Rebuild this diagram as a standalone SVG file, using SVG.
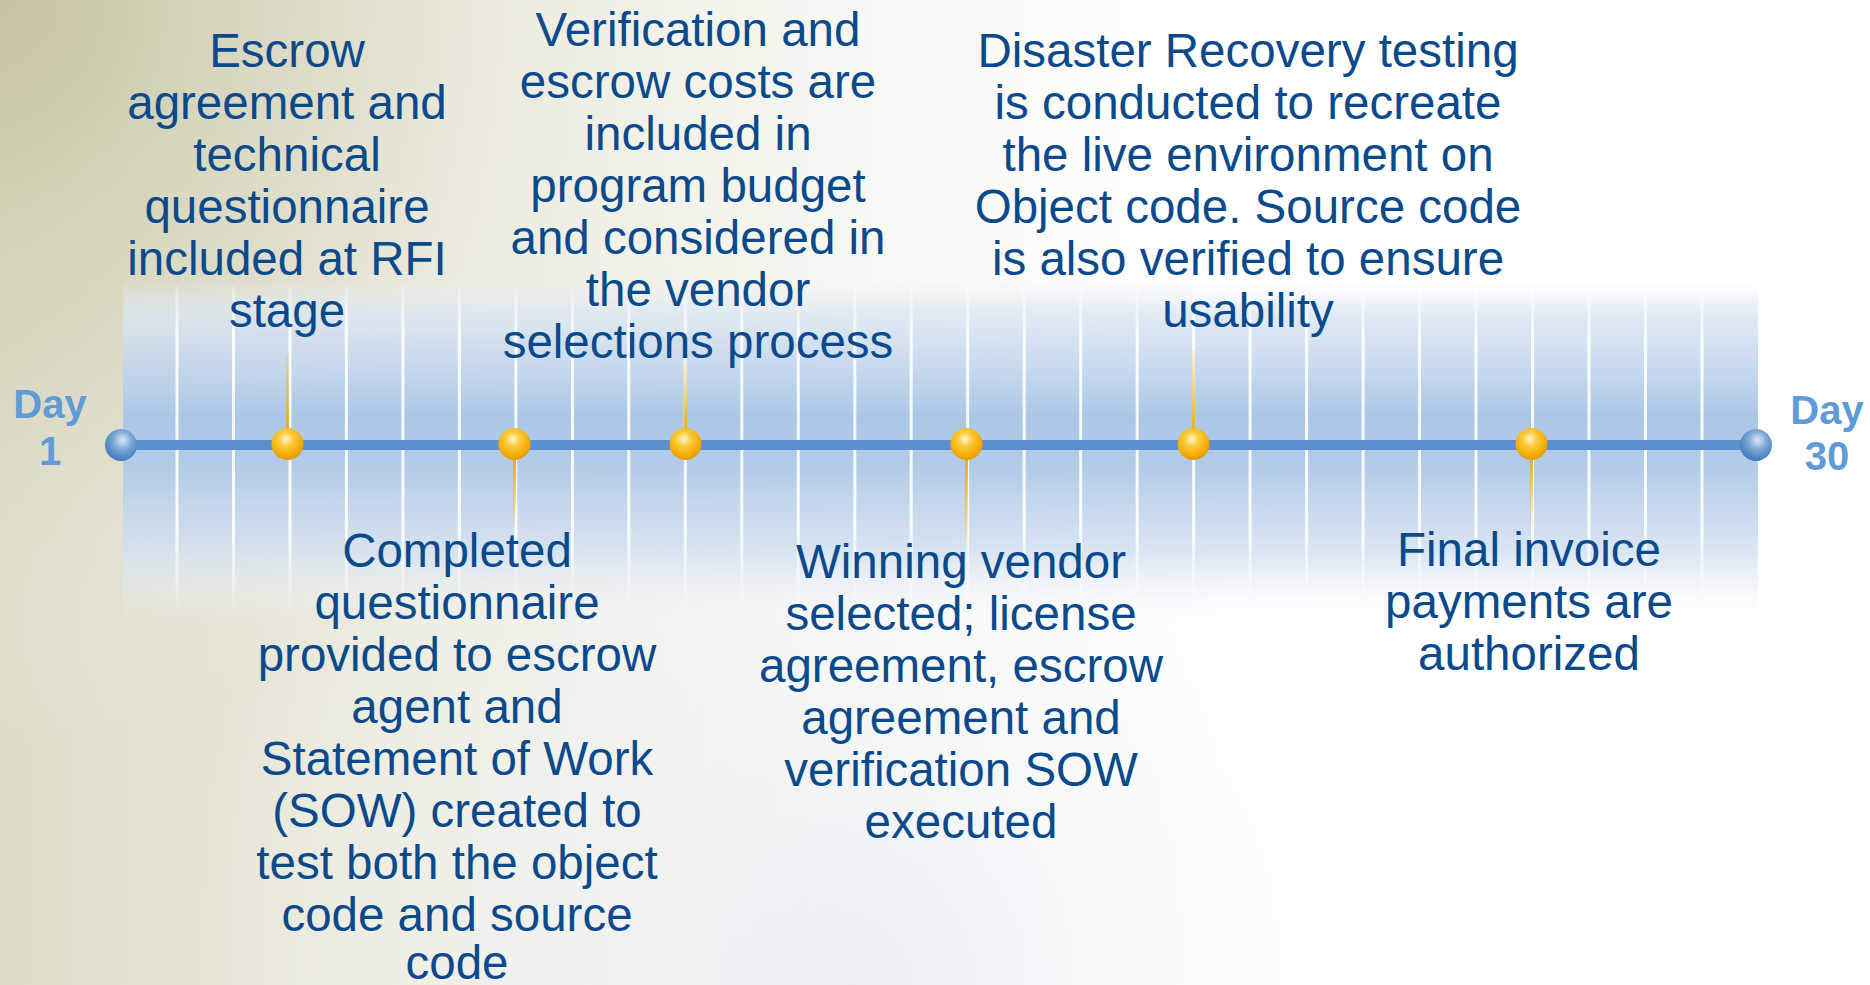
<svg xmlns="http://www.w3.org/2000/svg" width="1870" height="985" viewBox="0 0 1870 985">
<defs>
<linearGradient id="bgH" x1="0" y1="0" x2="1870" y2="0" gradientUnits="userSpaceOnUse">
<stop offset="0" stop-color="#dedcc8"/>
<stop offset="0.2" stop-color="#eae9dc"/>
<stop offset="0.45" stop-color="#f7f7f2"/>
<stop offset="0.65" stop-color="#ffffff"/>
<stop offset="1" stop-color="#ffffff"/>
</linearGradient>
<radialGradient id="bgTL" cx="0" cy="0" r="750" gradientUnits="userSpaceOnUse">
<stop offset="0" stop-color="#bab890" stop-opacity="0.7"/>
<stop offset="0.5" stop-color="#d0ceb0" stop-opacity="0.3"/>
<stop offset="1" stop-color="#ffffff" stop-opacity="0"/>
</radialGradient>
<radialGradient id="bgBot" cx="850" cy="985" r="700" gradientUnits="userSpaceOnUse">
<stop offset="0" stop-color="#e8eef5" stop-opacity="0.8"/>
<stop offset="1" stop-color="#ffffff" stop-opacity="0"/>
</radialGradient>
<linearGradient id="panelV" x1="0" y1="280" x2="0" y2="620" gradientUnits="userSpaceOnUse">
<stop offset="0" stop-color="#e8eff8" stop-opacity="0"/>
<stop offset="0.1" stop-color="#dae6f3" stop-opacity="0.8"/>
<stop offset="0.4" stop-color="#abc7e6" stop-opacity="1"/>
<stop offset="0.55" stop-color="#b3cbe7" stop-opacity="1"/>
<stop offset="0.8" stop-color="#d2e1f1" stop-opacity="0.85"/>
<stop offset="1" stop-color="#f2f6fb" stop-opacity="0"/>
</linearGradient>
<linearGradient id="vline" x1="0" y1="286" x2="0" y2="615" gradientUnits="userSpaceOnUse">
<stop offset="0" stop-color="#ffffff" stop-opacity="0.2"/>
<stop offset="0.15" stop-color="#ffffff" stop-opacity="0.9"/>
<stop offset="0.75" stop-color="#ffffff" stop-opacity="0.9"/>
<stop offset="1" stop-color="#ffffff" stop-opacity="0"/>
</linearGradient>
<linearGradient id="stemUp" x1="0" y1="0" x2="0" y2="1">
<stop offset="0" stop-color="#f5b000" stop-opacity="0.1"/>
<stop offset="1" stop-color="#f0a400" stop-opacity="1"/>
</linearGradient>
<linearGradient id="stemDown" x1="0" y1="0" x2="0" y2="1">
<stop offset="0" stop-color="#f0a400" stop-opacity="1"/>
<stop offset="1" stop-color="#f5b000" stop-opacity="0.05"/>
</linearGradient>
<radialGradient id="orangeBall" cx="0.45" cy="0.35" r="0.65">
<stop offset="0" stop-color="#fff6cf"/>
<stop offset="0.35" stop-color="#fbcb3a"/>
<stop offset="0.8" stop-color="#f3a900"/>
<stop offset="1" stop-color="#e39a00"/>
</radialGradient>
<radialGradient id="blueBall" cx="0.55" cy="0.35" r="0.7">
<stop offset="0" stop-color="#dbe9f7"/>
<stop offset="0.4" stop-color="#7fa9d8"/>
<stop offset="0.85" stop-color="#4a7fbe"/>
<stop offset="1" stop-color="#3e70ae"/>
</radialGradient>
<style>
.txt{font-family:"Liberation Sans",Arial,sans-serif;font-size:47.5px;fill:#0a4a8c;text-anchor:middle}
.day{font-family:"Liberation Sans",Arial,sans-serif;font-size:40px;font-weight:bold;fill:#5f9bd6;text-anchor:middle}
.vl{stroke:url(#vline);stroke-width:3}
.up{fill:url(#stemUp)}
.down{fill:url(#stemDown)}
</style>
</defs>

<g id="background">
<rect x="0" y="0" width="1870" height="985" fill="url(#bgH)"/>
<rect x="0" y="0" width="1870" height="985" fill="url(#bgTL)"/>
<rect x="0" y="0" width="1870" height="985" fill="url(#bgBot)"/>
<rect x="123" y="280" width="1635" height="340" fill="url(#panelV)"/>
<g id="gridlines">
<line class="vl" x1="177" y1="286" x2="177" y2="615"/>
<line class="vl" x1="233.5" y1="286" x2="233.5" y2="615"/>
<line class="vl" x1="290" y1="286" x2="290" y2="615"/>
<line class="vl" x1="346.4" y1="286" x2="346.4" y2="615"/>
<line class="vl" x1="402.9" y1="286" x2="402.9" y2="615"/>
<line class="vl" x1="459.4" y1="286" x2="459.4" y2="615"/>
<line class="vl" x1="515.9" y1="286" x2="515.9" y2="615"/>
<line class="vl" x1="572.4" y1="286" x2="572.4" y2="615"/>
<line class="vl" x1="628.8" y1="286" x2="628.8" y2="615"/>
<line class="vl" x1="685.3" y1="286" x2="685.3" y2="615"/>
<line class="vl" x1="741.8" y1="286" x2="741.8" y2="615"/>
<line class="vl" x1="798.3" y1="286" x2="798.3" y2="615"/>
<line class="vl" x1="854.8" y1="286" x2="854.8" y2="615"/>
<line class="vl" x1="911.2" y1="286" x2="911.2" y2="615"/>
<line class="vl" x1="967.7" y1="286" x2="967.7" y2="615"/>
<line class="vl" x1="1024.2" y1="286" x2="1024.2" y2="615"/>
<line class="vl" x1="1080.7" y1="286" x2="1080.7" y2="615"/>
<line class="vl" x1="1137.2" y1="286" x2="1137.2" y2="615"/>
<line class="vl" x1="1193.6" y1="286" x2="1193.6" y2="615"/>
<line class="vl" x1="1250.1" y1="286" x2="1250.1" y2="615"/>
<line class="vl" x1="1306.6" y1="286" x2="1306.6" y2="615"/>
<line class="vl" x1="1363.1" y1="286" x2="1363.1" y2="615"/>
<line class="vl" x1="1419.6" y1="286" x2="1419.6" y2="615"/>
<line class="vl" x1="1476" y1="286" x2="1476" y2="615"/>
<line class="vl" x1="1532.5" y1="286" x2="1532.5" y2="615"/>
<line class="vl" x1="1589" y1="286" x2="1589" y2="615"/>
<line class="vl" x1="1645.5" y1="286" x2="1645.5" y2="615"/>
<line class="vl" x1="1702" y1="286" x2="1702" y2="615"/>
</g>
</g>

<g id="connectors">
<line x1="121" y1="445" x2="1756" y2="445" stroke="#5b8fcd" stroke-width="10"/>
</g>

<g id="day1">
<circle cx="121" cy="445" r="16" fill="url(#blueBall)"/>
<text class="day" x="50" y="418">Day</text>
<text class="day" x="50" y="465">1</text>
</g>

<g id="day30">
<circle cx="1756" cy="445" r="16" fill="url(#blueBall)"/>
<text class="day" x="1827" y="424">Day</text>
<text class="day" x="1827" y="470">30</text>
</g>

<g id="event1">
<rect class="up" x="286" y="355" width="3" height="85"/>
<circle cx="287.5" cy="444" r="16" fill="url(#orangeBall)"/>
<text class="txt" x="287" y="67">Escrow</text>
<text class="txt" x="287" y="119">agreement and</text>
<text class="txt" x="287" y="171">technical</text>
<text class="txt" x="287" y="223">questionnaire</text>
<text class="txt" x="287" y="275">included at RFI</text>
<text class="txt" x="287" y="327">stage</text>
</g>

<g id="event2">
<rect class="down" x="513" y="450" width="3" height="78"/>
<circle cx="514.5" cy="444" r="16" fill="url(#orangeBall)"/>
<text class="txt" x="457" y="567">Completed</text>
<text class="txt" x="457" y="619">questionnaire</text>
<text class="txt" x="457" y="671">provided to escrow</text>
<text class="txt" x="457" y="723">agent and</text>
<text class="txt" x="457" y="775">Statement of Work</text>
<text class="txt" x="457" y="827">(SOW) created to</text>
<text class="txt" x="457" y="879">test both the object</text>
<text class="txt" x="457" y="931">code and source</text>
<text class="txt" x="457" y="979">code</text>
</g>

<g id="event3">
<rect class="up" x="684" y="360" width="3" height="80"/>
<circle cx="685.5" cy="444" r="16" fill="url(#orangeBall)"/>
<text class="txt" x="698" y="46">Verification and</text>
<text class="txt" x="698" y="98">escrow costs are</text>
<text class="txt" x="698" y="150">included in</text>
<text class="txt" x="698" y="202">program budget</text>
<text class="txt" x="698" y="254">and considered in</text>
<text class="txt" x="698" y="306">the vendor</text>
<text class="txt" x="698" y="358">selections process</text>
</g>

<g id="event4">
<rect class="down" x="965" y="450" width="3" height="100"/>
<circle cx="966.5" cy="444" r="16" fill="url(#orangeBall)"/>
<text class="txt" x="961" y="578">Winning vendor</text>
<text class="txt" x="961" y="630">selected; license</text>
<text class="txt" x="961" y="682">agreement, escrow</text>
<text class="txt" x="961" y="734">agreement and</text>
<text class="txt" x="961" y="786">verification SOW</text>
<text class="txt" x="961" y="838">executed</text>
</g>

<g id="event5">
<rect class="up" x="1192" y="350" width="3" height="90"/>
<circle cx="1193.5" cy="444" r="16" fill="url(#orangeBall)"/>
<text class="txt" x="1248" y="67">Disaster Recovery testing</text>
<text class="txt" x="1248" y="119">is conducted to recreate</text>
<text class="txt" x="1248" y="171">the live environment on</text>
<text class="txt" x="1248" y="223">Object code. Source code</text>
<text class="txt" x="1248" y="275">is also verified to ensure</text>
<text class="txt" x="1248" y="327">usability</text>
</g>

<g id="event6">
<rect class="down" x="1530" y="450" width="3" height="78"/>
<circle cx="1531.5" cy="444" r="16" fill="url(#orangeBall)"/>
<text class="txt" x="1529" y="566">Final invoice</text>
<text class="txt" x="1529" y="618">payments are</text>
<text class="txt" x="1529" y="670">authorized</text>
</g>
</svg>
